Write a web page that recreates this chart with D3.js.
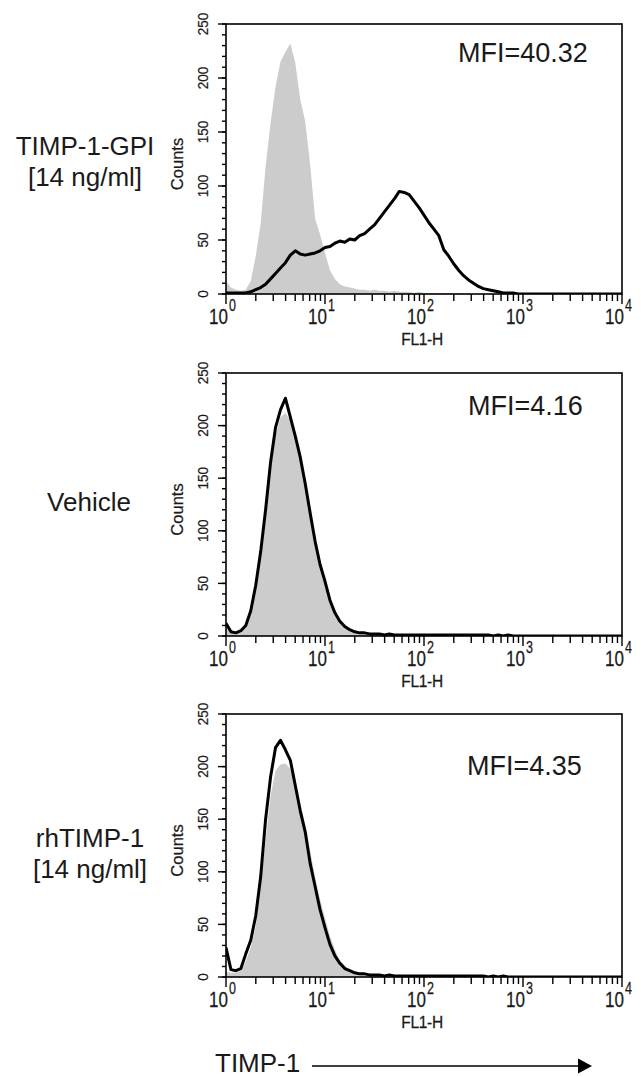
<!DOCTYPE html>
<html>
<head>
<meta charset="utf-8">
<script src="https://cdn.jsdelivr.net/npm/d3@7"></script>
<style>
  html, body { margin: 0; padding: 0; background: #fff; }
  svg { display: block; font-family: "Liberation Sans", Arial, sans-serif; }
</style>
</head>
<body>
<svg id="chart" width="641" height="1077"></svg>
<script>
// ---------------- DATA ----------------
// Histogram channels: log10(FL1-H) from 0 to 4 in steps of 0.05
const logChannels = d3.range(0, 81).map(i => i * 0.05);

const sampleLabels = [["TIMP-1-GPI", "[14 ng/ml]"], ["Vehicle"], ["rhTIMP-1", "[14 ng/ml]"]];
const mfiLabels = ["MFI=40.32", "MFI=4.16", "MFI=4.35"];

// Control (grey filled) histograms
const control1 = [12,6,4,3,4, 12,35,65,118,158, 192,215,224,232,214, 180,160,120,70,55, 38,22,14,9,7, 6,5,4,4,3, 4,3,3,2,3, 2,2,2,1,2, 1,1,1,1,1, 1,0,1,0,0,
  0,0,0,0,0, 0,0,0,0,0, 0,0,0,0,0, 0,0,0,0,0, 0,0,0,0,0, 0,0,0,0,0, 0];
const control2 = [8,3,3,5,10, 22,45,76,115,158, 190,208,212,205,190, 172,148,120,94,72, 55,37,24,15,10, 7,5,4,3,3, 2,2,2,2,2, 2,1,2,1,1, 1,2,1,1,1, 1,1,1,1,1, 1,1,1,1,1, 1,1,1,1,0, 1,0,1,0,0,
  0,0,0,0,0, 0,0,0,0,0, 0,0,0,0,0, 0];
const control3 = [5,4,4,6,15, 28,48,85,130,172, 196,202,203,198,182, 165,145,120,95,74, 56,39,26,16,11, 7,5,4,3,3, 2,2,2,2,2, 2,1,2,1,1, 1,2,1,1,1, 1,1,1,1,1, 1,1,1,1,1, 1,1,1,1,0, 1,0,1,0,0,
  0,0,0,0,0, 0,0,0,0,0, 0,0,0,0,0, 0];

// Sample (black outline) histograms
const sample1 = [1,1,1,1,1, 2,4,6,9,14, 19,24,29,36,40, 37,36,37,38,40, 43,44,47,49,48, 51,50,54,56,60, 64,70,76,82,88, 95,94,92,86,80, 73,66,60,54,41, 35,28,22,17,13, 10,7,5,4,3, 2,1,1,1,0,
  0,0,0,0,0, 0,0,0,0,0, 0,0,0,0,0, 0,0,0,0,0, 0];
const sample2 = [12,4,3,5,10, 24,48,80,120,165, 198,215,226,208,190, 170,145,117,90,68, 52,34,22,14,9, 6,4,3,3,2, 2,2,1,2,1, 1,1,1,1,1, 1,1,1,1,1, 1,1,1,1,1, 1,1,1,1,0, 1,0,1,0,0,
  0,0,0,0,0, 0,0,0,0,0, 0,0,0,0,0, 0,0,0,0,0, 0];
const sample3 = [28,7,6,8,22, 35,58,95,150,190, 218,225,216,206,182, 158,138,108,86,64, 47,31,20,13,8, 6,4,3,3,2, 2,2,1,2,1, 1,1,1,1,1, 1,1,1,1,1, 1,1,1,1,1, 1,1,1,0,1, 0,1,0,0,0,
  0,0,0,0,0, 0,0,0,0,0, 0,0,0,0,0, 0,0,0,0,0, 0];

const controls = [control1, control2, control3];
const samples = [sample1, sample2, sample3];

const yMajorTicks = [0, 50, 100, 150, 200, 250];
const yMinorTicks = d3.range(0, 251, 10);
const xDecadeExponents = [0, 1, 2, 3, 4];
const yAxisTitle = "Counts";
const xAxisTitle = "FL1-H";
const bottomTitle = "TIMP-1";

// ---------------- LAYOUT ----------------
const plotLeft = 226, plotRight = 622;
const panels = [
  { top: 24,  bottom: 294, labelX: 85, labelY: 155, mfiX: 458, mfiY: 62 },
  { top: 373, bottom: 636, labelX: 89, labelY: 511, mfiX: 468, mfiY: 415 },
  { top: 714, bottom: 977, labelX: 90, labelY: 847, mfiX: 467, mfiY: 775 }
];
const ink = "#1a1a1a";

const svg = d3.select("#chart");
const x = d3.scaleLog().domain([1, 1e4]).range([plotLeft, plotRight]);

panels.forEach((p, k) => {
  const y = d3.scaleLinear().domain([0, 250]).range([p.bottom, p.top]);
  const g = svg.append("g");

  const clipId = "clip" + k;
  svg.append("clipPath").attr("id", clipId)
    .append("rect").attr("x", plotLeft).attr("y", p.top)
    .attr("width", plotRight - plotLeft).attr("height", p.bottom - p.top);

  const ctl = controls[k].map((c, i) => ({ v: Math.pow(10, logChannels[i]), c }));
  const smp = samples[k].map((c, i) => ({ v: Math.pow(10, logChannels[i]), c }));

  const area = d3.area().x(d => x(d.v)).y0(y(0)).y1(d => y(d.c));
  const line = d3.line().x(d => x(d.v)).y(d => y(d.c));

  const plot = g.append("g").attr("clip-path", `url(#${clipId})`);
  plot.append("path").datum(ctl).attr("d", area).attr("fill", "#cccccc").attr("stroke", "none");
  plot.append("path").datum(smp).attr("d", line).attr("fill", "none")
    .attr("stroke", "#000").attr("stroke-width", 3).attr("stroke-linejoin", "round");

  // frame
  g.append("rect").attr("x", plotLeft).attr("y", p.top)
    .attr("width", plotRight - plotLeft).attr("height", p.bottom - p.top)
    .attr("fill", "none").attr("stroke", "#000").attr("stroke-width", 1.6);

  // y axis ticks
  g.selectAll(".ymin").data(yMinorTicks).enter().append("line")
    .attr("x1", plotLeft - 4).attr("x2", plotLeft)
    .attr("y1", d => y(d)).attr("y2", d => y(d))
    .attr("stroke", "#000").attr("stroke-width", 1.4);
  g.selectAll(".ymaj").data(yMajorTicks).enter().append("line")
    .attr("x1", plotLeft - 8).attr("x2", plotLeft)
    .attr("y1", d => y(d)).attr("y2", d => y(d))
    .attr("stroke", "#000").attr("stroke-width", 1.4);
  g.selectAll(".ylab").data(yMajorTicks).enter().append("g")
    .attr("transform", d => `translate(208,${y(d)}) rotate(-90) scale(1,1.1)`)
    .append("text").attr("text-anchor", "middle").attr("font-size", 13.5).attr("fill", ink)
    .attr("stroke", ink).attr("stroke-width", 0.2)
    .text(d => d);

  g.append("text")
    .attr("transform", `translate(183,${(p.top + p.bottom) / 2 + 5}) rotate(-90)`)
    .attr("text-anchor", "middle").attr("font-size", 16.5).attr("fill", ink)
    .attr("stroke", ink).attr("stroke-width", 0.25)
    .text(yAxisTitle);

  // x axis ticks
  const minorVals = [];
  for (let e = 0; e < 4; e++) for (let m = 2; m <= 9; m++) minorVals.push(m * Math.pow(10, e));
  g.selectAll(".xmin").data(minorVals).enter().append("line")
    .attr("x1", d => x(d)).attr("x2", d => x(d))
    .attr("y1", p.bottom).attr("y2", p.bottom + 7)
    .attr("stroke", "#000").attr("stroke-width", 1.4);
  g.selectAll(".xmaj").data(xDecadeExponents).enter().append("line")
    .attr("x1", d => x(Math.pow(10, d))).attr("x2", d => x(Math.pow(10, d)))
    .attr("y1", p.bottom).attr("y2", p.bottom + 10)
    .attr("stroke", "#000").attr("stroke-width", 1.4);

  xDecadeExponents.forEach(e => {
    const xt = x(Math.pow(10, e));
    g.append("g").attr("transform", `translate(${xt + 2},${p.bottom + 30}) scale(1,1.28)`)
      .append("text").attr("text-anchor", "end").attr("font-size", 17).attr("fill", ink)
      .attr("stroke", ink).attr("stroke-width", 0.2).text("10");
    g.append("g").attr("transform", `translate(${xt + 3},${p.bottom + 17}) scale(1,1.28)`)
      .append("text").attr("text-anchor", "start").attr("font-size", 12.5).attr("fill", ink)
      .attr("stroke", ink).attr("stroke-width", 0.2).text(e);
  });

  g.append("g").attr("transform", `translate(${x(100) - 2},${p.bottom + 50.5}) scale(1,1.1)`)
    .append("text").attr("text-anchor", "middle").attr("font-size", 15.5).attr("fill", ink)
    .attr("stroke", ink).attr("stroke-width", 0.25)
    .attr("letter-spacing", -0.3).text(xAxisTitle);

  // MFI annotation
  g.append("text").attr("x", p.mfiX).attr("y", p.mfiY)
    .attr("font-size", 27).attr("fill", ink).text(mfiLabels[k]);

  // sample label
  const lbl = g.append("text").attr("text-anchor", "middle").attr("font-size", 26).attr("fill", ink);
  sampleLabels[k].forEach((t, j) => {
    lbl.append("tspan").attr("x", p.labelX).attr("y", p.labelY + j * 31).text(t);
  });
});

// bottom title with arrow
svg.append("text").attr("x", 215).attr("y", 1072).attr("font-size", 26).attr("fill", ink).text(bottomTitle);
svg.append("line").attr("x1", 312).attr("x2", 580).attr("y1", 1066).attr("y2", 1066)
  .attr("stroke", "#000").attr("stroke-width", 1.6);
svg.append("path").attr("d", "M578,1058.5 L592,1066 L578,1073.5 Z").attr("fill", "#000");
</script>
</body>
</html>
